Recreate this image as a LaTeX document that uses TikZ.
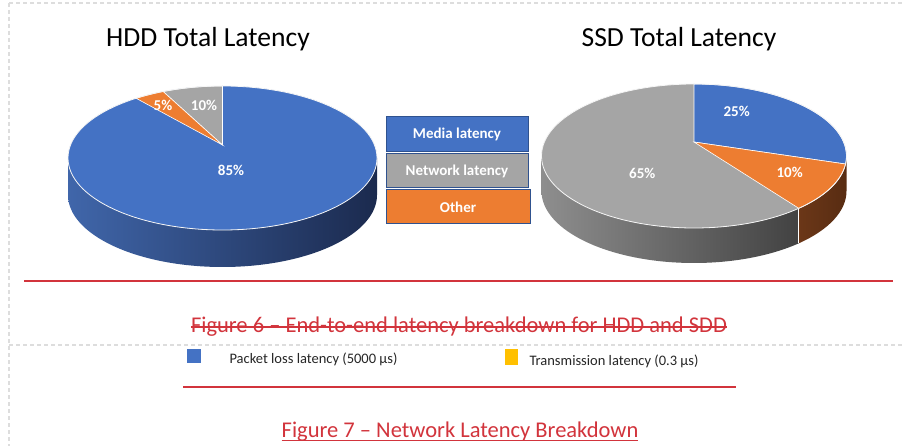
\documentclass[tikz,border=0pt]{standalone}
\usepackage{fontspec}
\setmainfont{Carlito}
\usetikzlibrary{calc}
\definecolor{pblue}{HTML}{4472C4}
\definecolor{pgray}{HTML}{A5A5A5}
\definecolor{porange}{HTML}{ED7D31}
\definecolor{pborder}{HTML}{2F528F}
\definecolor{redline}{HTML}{D2343C}
\definecolor{pyellow}{HTML}{FFC000}
\definecolor{dashgray}{HTML}{DDDDDD}
\definecolor{hddL}{HTML}{4066AA}
\definecolor{hddR}{HTML}{1B2A4E}
\definecolor{ssdL}{HTML}{8E8E8E}
\definecolor{ssdR}{HTML}{424242}
\definecolor{brownL}{HTML}{6B3718}
\definecolor{brownR}{HTML}{582C12}
\definecolor{legtext}{HTML}{262626}
\tikzset{
  titletext/.style={font=\fontsize{27.6}{30}\selectfont, text=black, inner sep=0pt},
  pct/.style={font=\fontsize{15}{17}\selectfont\bfseries, text=white, inner sep=0pt},
  legbox/.style={draw=pborder, line width=1pt, font=\fontsize{15}{17}\selectfont\bfseries, text=white, inner sep=0pt},
  smalltext/.style={font=\fontsize{14.5}{16}\selectfont, text=legtext, inner sep=0pt},
  captext/.style={font=\fontsize{22.5}{26}\selectfont, text=redline, inner sep=0pt},
  redrule/.style={draw=redline, line width=2pt},
  gdash/.style={draw=dashgray, line width=1.2pt, dash pattern=on 4pt off 3pt},
  faceedge/.style={draw=white!92!gray, line width=0.8pt},
  hddell/.style={x radius=154.5, y radius=72},
  ssdell/.style={x radius=152.5, y radius=72},
}
\begin{document}
\begin{tikzpicture}[x=1pt,y=-1pt]
\useasboundingbox (0,0) rectangle (902,446);
\fill[white] (0,0) rectangle (902,446);
% dashed frame
\draw[gdash] (9,3) -- (902,3);
\draw[gdash] (9,3) -- (9,446);
\draw[gdash] (9,345) -- (902,345);

% titles
\node[titletext, anchor=base] (hddtitle) at (208,46.7) {HDD Total Latency};
\node[titletext, anchor=base] (ssdtitle) at (679,46.7) {SSD Total Latency};

% ---------- HDD pie ----------
\shade[left color=hddL, right color=hddR]
  (68,158) -- (68,195) arc[start angle=180, end angle=0, hddell]
  -- (377,158) arc[start angle=0, end angle=180, hddell] -- cycle;
\fill[pblue] (222.5,158) ellipse[hddell];
\filldraw[fill=pgray, draw=white, line width=0.6pt]
  (222.5,145) -- (222.5,86) arc[start angle=-90, end angle=-112.6, hddell] -- cycle;
\filldraw[fill=porange, draw=white, line width=0.6pt]
  (222.5,145) -- (163.1,91.5) arc[start angle=-112.6, end angle=-124, hddell] -- cycle;
\draw[faceedge] (222.5,158) ellipse[hddell];
\node[pct, anchor=base] (h85) at (231,176) {85\%};
\node[pct, anchor=base] (h5) at (163,111) {5\%};
\node[pct, anchor=base] (h10) at (204,111) {10\%};

% ---------- SSD pie ----------
\shade[left color=ssdL, right color=ssdR]
  (541.5,156) -- (541.5,191) arc[start angle=180, end angle=46.6, ssdell]
  -- ++(0,-35) arc[start angle=46.6, end angle=180, ssdell] -- cycle;
\shade[left color=brownL, right color=brownR]
  (846.5,156) -- (846.5,191) arc[start angle=0, end angle=46.6, ssdell]
  -- ++(0,-35) arc[start angle=46.6, end angle=0, ssdell] -- cycle;
\draw[white, line width=0.8pt] (798.8,208.3) -- (798.8,243.3);
\fill[pgray] (694,156) ellipse[ssdell];
\filldraw[fill=pblue, draw=white, line width=0.6pt]
  (694,142) -- (694,84) arc[start angle=-90, end angle=6.4, ssdell] -- cycle;
\filldraw[fill=porange, draw=white, line width=0.6pt]
  (694,142) -- (845.55,164.03) arc[start angle=6.4, end angle=46.6, ssdell] -- cycle;
\draw[faceedge] (694,156) ellipse[ssdell];
\node[pct, anchor=base] (s25) at (736.7,116.7) {25\%};
\node[pct, anchor=base] (s10) at (789.7,177.7) {10\%};
\node[pct, anchor=base] (s65) at (642.3,179) {65\%};

% ---------- legend ----------
\node[legbox, fill=pblue, minimum width=142pt, minimum height=35pt] (media) at (457,134.5) {Media latency};
\node[legbox, fill=pgray, minimum width=142pt, minimum height=34pt] (network) at (457,171) {Network latency};
\node[legbox, fill=porange, minimum width=144pt, minimum height=34pt] (other) at (458,207) {Other};

% ---------- caption 6 ----------
\draw[redrule] (24,280.7) -- (893,280.7);
\node[captext, anchor=base] (cap6) at (459,332.3) {Figure 6 – End-to-end latency breakdown for HDD and SDD};
\draw[draw=redline, line width=1.6pt] ($(cap6.base west)+(0,-5.6)$) -- ($(cap6.base east)+(0,-5.6)$);

% ---------- bottom legend ----------
\node[fill=pblue, minimum width=13.4pt, minimum height=14pt, inner sep=0pt] (sqblue) at (194,356.3) {};
\node[smalltext, anchor=base west] (pkt) at (229.3,363.3) {Packet loss latency (5000 µs)};
\node[fill=pyellow, minimum width=13.6pt, minimum height=15.7pt, inner sep=0pt] (sqyellow) at (511.5,357.2) {};
\node[smalltext, anchor=base west] (trans) at (529.3,365.7) {Transmission latency (0.3 µs)};

% ---------- caption 7 ----------
\draw[redrule] (183,387.3) -- (736,387.3);
\node[captext, anchor=base] (cap7) at (460,437.3) {Figure 7 – Network Latency Breakdown};
\draw[draw=redline, line width=1.6pt] ($(cap7.base west)+(0,3)$) -- ($(cap7.base east)+(0,3)$);
\end{tikzpicture}
\end{document}
